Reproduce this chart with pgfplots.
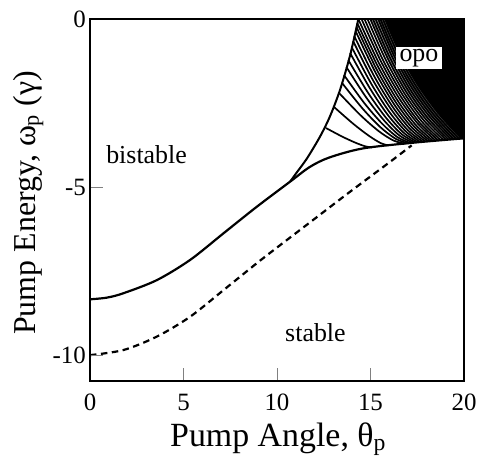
\documentclass[border=0pt]{standalone}
\usepackage{fontspec}
\setmainfont{Liberation Serif}
\usepackage{pgfplots}
\pgfplotsset{compat=1.18}
\begin{document}
\begin{tikzpicture}
\begin{axis}[
  width=374bp, height=362bp, scale only axis,
  xmin=0, xmax=20, ymin=-10.77, ymax=0,
  xtick={0,5,10,15,20}, xticklabels={0,5,10,15,20},
  ytick={-10,-5,0}, yticklabels={-10,-5,0},
  tick pos=left, tick align=inside, major tick length=13bp,
  tick style={gray, line width=0.6bp},
  axis line style={line width=2bp},
  ticklabel style={font=\fontsize{25}{30}\selectfont},
  xticklabel style={anchor=base, yshift=-29bp},
  yticklabel style={inner xsep=4bp},
  xlabel={Pump Angle, θ\textsubscript{p}},
  ylabel={Pump Energy, ω\textsubscript{p} (γ)},
  xlabel style={at={(axis description cs:0.503,-0.182)}, anchor=base,
    font=\fontsize{34}{40}\selectfont},
  ylabel style={at={(axis description cs:-0.147,0.492)}, anchor=base,
    font=\fontsize{32}{38}\selectfont},
  axis on top,
  fam/.style={smooth, line width=1.7bp, black},
]
\coordinate (bl) at (rel axis cs:0,0);
\coordinate (tr) at (rel axis cs:1,1);

% grey underlay where the curves crowd together
\addplot[draw=none, fill=black!40] coordinates {
(14.99,0) (15.93,-1.182) (16.91,-2.173) (17.95,-2.979) (19.04,-3.595)
(20,-3.55) (20,0)};
% grey, darker, closer to the dense part
\addplot[draw=none, fill=black!65] coordinates {
(15.41,0) (16.26,-1.098) (17.22,-2.060) (18.28,-2.887) (19.45,-3.577)
(20,-3.55) (20,0)};
% dense (black) part of the opo region
\addplot[draw=none, fill=black] coordinates {
(15.78,0) (16.57,-1.015) (17.51,-1.943) (18.61,-2.792) (19.86,-3.557)
(20,-3.55) (20,0)};

% family of curves in the opo region
\addplot[fam] coordinates {(12.62,-3.244) (13.48,-3.497) (14.18,-3.677) (14.71,-3.786) (15.08,-3.821)};
\addplot[fam] coordinates {(13.05,-2.619) (14.08,-3.119) (14.91,-3.473) (15.53,-3.688) (15.94,-3.759)};
\addplot[fam] coordinates {(13.32,-2.202) (14.46,-2.860) (15.43,-3.332) (16.22,-3.613) (16.84,-3.708)};
\addplot[fam] coordinates {(13.48,-1.905) (14.58,-2.667) (15.53,-3.219) (16.34,-3.563) (16.98,-3.696)};
\addplot[fam] coordinates {(13.58,-1.667) (14.67,-2.503) (15.63,-3.119) (16.44,-3.515) (17.12,-3.688)};
\addplot[fam] coordinates {(13.71,-1.429) (14.78,-2.342) (15.73,-3.022) (16.55,-3.467) (17.26,-3.679)};
\addplot[fam] coordinates {(13.81,-1.220) (14.87,-2.196) (15.82,-2.932) (16.66,-3.423) (17.40,-3.673)};
\addplot[fam] coordinates {(13.91,-1.012) (14.96,-2.054) (15.91,-2.842) (16.77,-3.381) (17.53,-3.667)};
\addplot[fam] coordinates {(13.99,-0.833) (15.04,-1.926) (16.00,-2.759) (16.88,-3.339) (17.67,-3.661)};
\addplot[fam] coordinates {(14.07,-0.655) (15.11,-1.798) (16.09,-2.677) (16.98,-3.298) (17.81,-3.655)};
\addplot[fam] coordinates {(14.13,-0.506) (15.18,-1.685) (16.17,-2.601) (17.09,-3.256) (17.94,-3.646)};
\addplot[fam] coordinates {(14.20,-0.357) (15.25,-1.574) (16.25,-2.527) (17.19,-3.214) (18.08,-3.640)};
\addplot[fam] coordinates {(14.25,-0.238) (15.31,-1.479) (16.33,-2.458) (17.30,-3.179) (18.22,-3.634)};
\addplot[fam] coordinates {(14.29,-0.119) (15.37,-1.384) (16.41,-2.393) (17.40,-3.140) (18.35,-3.628)};
\addplot[fam] coordinates {(14.35,0) (15.43,-1.289) (16.49,-2.324) (17.51,-3.101) (18.49,-3.622)};
\addplot[fam] coordinates {(14.52,0) (15.56,-1.262) (16.60,-2.286) (17.61,-3.071) (18.63,-3.616)};
\addplot[fam] coordinates {(14.68,0) (15.68,-1.235) (16.71,-2.250) (17.73,-3.042) (18.76,-3.610)};
\addplot[fam] coordinates {(14.84,0) (15.81,-1.208) (16.81,-2.210) (17.84,-3.009) (18.90,-3.601)};
\addplot[fam] coordinates {(14.99,0) (15.93,-1.182) (16.91,-2.173) (17.95,-2.979) (19.04,-3.595)};
\addplot[fam] coordinates {(15.13,0) (16.04,-1.152) (17.02,-2.134) (18.06,-2.946) (19.18,-3.589)};
\addplot[fam] coordinates {(15.27,0) (16.16,-1.125) (17.12,-2.097) (18.18,-2.917) (19.32,-3.583)};
\addplot[fam] coordinates {(15.41,0) (16.26,-1.098) (17.22,-2.060) (18.28,-2.887) (19.45,-3.577)};
\addplot[fam] coordinates {(15.53,0) (16.36,-1.068) (17.32,-2.021) (18.39,-2.854) (19.59,-3.571)};
\addplot[fam] coordinates {(15.66,0) (16.47,-1.042) (17.42,-1.984) (18.50,-2.824) (19.73,-3.565)};
\addplot[fam] coordinates {(15.78,0) (16.57,-1.015) (17.51,-1.943) (18.61,-2.792) (19.86,-3.557)};

% lower stability boundary (solid) with lower branch
\addplot[smooth, line width=2.2bp, black] coordinates {
(0,-8.34) (0.9,-8.29) (1.78,-8.16) (3.57,-7.77) (5.35,-7.17) (7.13,-6.38)
(8.91,-5.59) (10.7,-4.84) (11.76,-4.4) (12.8,-4.12) (14.6,-3.85)
(17.3,-3.68) (20,-3.55)};
% upper branch
\addplot[smooth, line width=2bp, black] coordinates {
(10.7,-4.84) (11.05,-4.57) (11.6,-4.15) (12.3,-3.5) (12.83,-2.9)
(13.37,-2.11) (13.9,-1.1) (14.35,0)};
% dashed curve
\addplot[smooth, line width=2.2bp, black, dash pattern=on 6.5bp off 4.5bp] coordinates {
(0,-10.0) (1.78,-9.85) (3.57,-9.45) (5.35,-8.86) (7.13,-8.07) (8.91,-7.27)
(10.0,-6.8) (12.0,-5.95) (14.0,-5.1) (16.0,-4.27) (17.2,-3.76)};

\node[anchor=base west, inner sep=0pt, font=\fontsize{26}{31}\selectfont]
  at (axis cs:0.86,-4.29) {bistable};
\node[anchor=base west, inner sep=0pt, font=\fontsize{26}{31}\selectfont]
  at (axis cs:10.43,-9.58) {stable};
\node[fill=white, inner xsep=4bp, inner ysep=2bp, font=\fontsize{26}{31}\selectfont]
  at (axis cs:17.59,-1.16) {opo};
\end{axis}
\pgfresetboundingbox
\path[use as bounding box] ([shift={(-90bp,-81bp)}]bl) rectangle ([shift={(16bp,19bp)}]tr);
\end{tikzpicture}
\end{document}
